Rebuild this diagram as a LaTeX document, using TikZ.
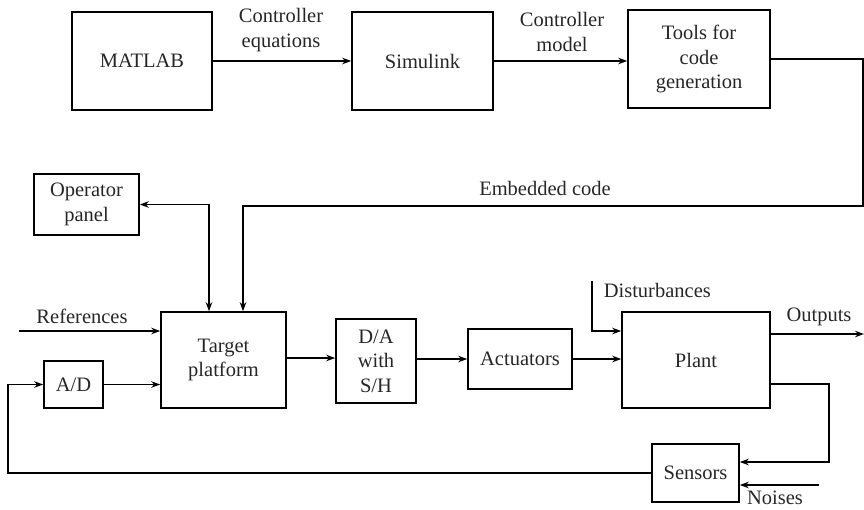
\documentclass[tikz,border=0pt]{standalone}
\usepackage{fontspec}
\setmainfont{Liberation Serif}
\usetikzlibrary{arrows.meta}
\begin{document}
\begin{tikzpicture}[x=1pt,y=-1pt,
  line width=1.6pt,
  every node/.style={font=\fontsize{20.5}{24.5}\selectfont, text=black!85, align=center, inner sep=0pt},
  blk/.style={draw=black, minimum width=#1},
  arr/.style={-{Stealth[length=9pt,width=6.5pt]}},
  darr/.style={{Stealth[length=9pt,width=6.5pt]}-{Stealth[length=9pt,width=6.5pt]}}]
  \useasboundingbox (0,0) rectangle (864,509);

  % top row: design chain
  \node[blk=140pt, minimum height=98pt] (matlab) at (142,61) {MATLAB};
  \node[blk=141pt, minimum height=98pt] (simulink) at (422.5,61) {Simulink};
  \node[blk=142pt, minimum height=98pt] (tools) at (699,59) {Tools for\\code\\generation};

  % control loop
  \node[blk=105pt, minimum height=61pt] (oper) at (86.5,204.5) {Operator\\panel};
  \node[blk=125pt, minimum height=96pt] (target) at (223.5,360) {Target\\platform};
  \node[blk=80pt, minimum height=84pt] (da) at (376,361) {D/A\\with\\S/H};
  \node[blk=104pt, minimum height=60pt] (act) at (520,359) {Actuators};
  \node[blk=148pt, minimum height=96pt] (plant) at (696,360) {Plant};
  \node[blk=59pt, minimum height=47pt] (ad) at (73.5,384.5) {A/D};
  \node[blk=87pt, minimum height=58pt] (sensors) at (695.5,473) {Sensors};

  % helper points for routed connectors
  \coordinate (c1) at (863,206);
  \coordinate (embx) at (243,206);
  \coordinate (opx) at (209,205);
  \coordinate (ref) at (19,331);
  \coordinate (dist) at (592,281);
  \coordinate (out) at (864,334);
  \coordinate (pk) at (829,384);
  \coordinate (noise) at (819,485);
  \coordinate (fb) at (8,473);

  % connectors
  \draw[arr] (matlab.east) -- (simulink.west);
  \draw[arr] (simulink.east) -- (simulink.east -| tools.west);
  \draw[arr] (tools.east) -- (tools.east -| c1) -- (c1) -- (embx) -- (embx |- target.north);
  \draw[darr] (oper.east) -- (oper.east -| opx) -- (opx |- target.north);
  \draw[arr] (ref) -- (ref -| target.west);
  \draw[arr] (ad.east) -- (ad.east -| target.west);
  \draw[arr] ([yshift=2pt]target.east) -- ([yshift=2pt]target.east -| da.west);
  \draw[arr] (act.west -| da.east) -- (act.west);
  \draw[arr] (act.east) -- (act.east -| plant.west);
  \draw[arr] (dist) |- ([yshift=29pt]plant.west);
  \draw[arr] ([yshift=26pt]plant.east) -- (out);
  \draw[arr] ([yshift=-24pt]plant.east) -- (pk) |- ([yshift=11pt]sensors.east);
  \draw[arr] (noise) -- (noise -| sensors.east);
  \draw[arr] (sensors.west) -- (fb) |- (ad.west);

  % labels
  \node (lce) at (281,30) {Controller\\equations};
  \node (lcm) at (562,32) {Controller\\model};
  \node (lec) at (545,188) {Embedded code};
  \node (lref) at (82,316) {References};
  \node[anchor=west] (ldist) at (603,290) {Disturbances};
  \node (lout) at (819,317) {Outputs};
  \node (lnoise) at (775,498) {Noises};
\end{tikzpicture}
\end{document}
